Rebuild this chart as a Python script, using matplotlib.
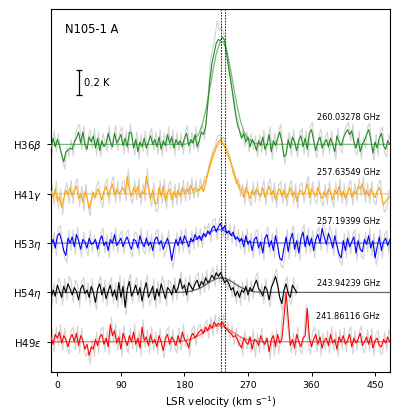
import numpy as np
import matplotlib
matplotlib.use("Agg")
import matplotlib.pyplot as plt

# channel grid (km/s): smoothed spectra start at -9, raw ones at -7.5, 3 km/s steps
V0_SMOOTH, V0_RAW, DV = -9.0, -7.5, 3.0

LINES = [r"H36$\beta$", r"H41$\gamma$", r"H53$\eta$", r"H54$\eta$", r"H49$\epsilon$"]
FREQS = ["260.03278 GHz", "257.63549 GHz", "257.19399 GHz", "243.94239 GHz", "241.86116 GHz"]
COLORS = ["forestgreen", "orange", "blue", "black", "red"]
OFFSETS = [1.6, 1.2, 0.8, 0.4, 0.0]
FREQ_DY = [0.218, 0.170, 0.172, 0.073, 0.208]

# smoothed spectra, units of 0.01 K
h36b = [-3, 5, -2, 4, -1, -8, -14, -6, -5, -3,
        -4, 2, 5, 10, 1, 10, 0, -4, 6, 2,
        7, -3, 5, -5, 3, -2, 1, 9, 2, -2,
        9, 1, 4, 8, -1, 5, -2, 10, 9, -3,
        4, -6, 2, -2, 5, -3, 2, 7, 0, 4,
        -2, 6, -4, 3, -1, 8, 1, 6, -3, 4,
        0, 3, -2, 5, 9, -1, 4, 1, 8, -2,
        3, 10, 8, 14, 32, 52, 66, 74, 82, 85,
        84, 87, 84, 72, 60, 50, 38, 26, 16, 11,
        5, 9, 2, 6, -2, 4, 1, -5, 3, -1,
        6, -4, 0, 8, -6, 3, -1, 5, 10, 2,
        -10, -8, 4, -3, 6, 2, -5, 3, 7, -2,
        5, -4, 9, 12, 3, -5, 2, 6, -3, 1,
        4, -2, 5, 0, -6, 7, 2, -1, 5, 9,
        12, 8, 11, 2, -3, 5, -6, 0, 3, 8,
        12, 4, -7, 2, -3, 5, 9, -1, -4, 3,
        0]
h41g = [2, -3, 4, -6, -2, -11, -4, 3, -1, 5,
        -2, 3, 6, -4, 0, -7, 2, -3, -12, -5,
        1, -3, 4, 0, -5, 2, 6, -2, 3, 8,
        -1, 4, 0, 2, 5, 0, 14, 3, -2, 5,
        1, 6, -3, 2, 0, 14, 4, -4, 3, -8,
        -8, 5, -2, 6, -6, 1, 4, -5, 2, -3,
        3, -2, 5, 0, 4, 1, 7, 2, 5, 3,
        3, 6, 2, 8, 16, 24, 30, 34, 38, 42,
        44, 41, 38, 33, 29, 25, 17, 12, 8, 4,
        2, -3, 5, 1, -4, 3, -1, 4, 0, -2,
        5, -3, 2, 6, -1, 3, -5, 1, 4, -2,
        3, -4, 0, 5, -2, 2, -6, 1, 3, -1,
        2, 8, -3, 4, 1, -2, 5, 0, -4, 2,
        -3, 4, 1, -5, 3, 0, 6, -2, 2, -4,
        1, 5, -3, 2, 0, 6, 4, 8, -1, 3,
        -2, 4, 0, -3, 2, 5, -1, -9, -6, -4,
        -2]
h53e = [-2, 3, -4, 6, 8, 2, -6, -10, 4, 0,
        5, -3, 7, 2, -5, 3, 1, -4, 4, -1,
        0, 3, -5, 2, 6, -2, 1, -6, 3, 0,
        7, -2, 1, 4, -3, 2, 5, -1, -5, 3,
        2, -4, 6, 0, -3, 4, -2, 1, -6, 3,
        5, -1, 2, -5, 0, 4, -3, -14, -4, 3,
        -2, 5, -1, 6, 2, -3, 4, 1, 7, 3,
        6, 2, 8, 5, 10, 7, 12, 14, 9, 13,
        16, 11, 14, 8, 10, 6, 9, 3, 5, 1,
        4, -3, 6, -1, 2, -6, 3, 5, -4, 1,
        -8, 4, 7, -3, 2, -6, 6, -2, -12, -14,
        -4, 5, -7, 3, 8, -5, 2, -8, 4, 9,
        -3, 6, -2, 4, -6, 3, 7, 0, 12, 5,
        -1, 8, 3, -4, 6, -2, -9, -12, 2, -6,
        4, -3, 1, 5, -8, 2, -5, -7, 3, -1,
        6, -4, 2, -12, -3, 5, -6, 1, 4, -2,
        3]
h54e = [-5, 2, -3, 6, 1, -4, 5, 0, 7, 3,
        -2, 4, 1, -6, 3, 6, -1, 2, -4, 5,
        0, -8, 3, 7, -2, 4, -5, 1, 6, -3,
        2, -6, 8, -4, 5, -12, 3, 9, -3, 1,
        6, -2, 4, -7, 2, 8, -4, 0, 5, -6,
        3, -3, 7, 1, -5, 4, 2, -2, 6, 0,
        4, 11, 3, 6, -2, 8, 5, 2, 7, 10,
        4, 9, 6, 12, 8, 10, 14, 11, 16, 13,
        16, 12, 8, 10, 7, 2, 4, -3, 1, -4,
        2, 0, 5, -2, 4, 1, 6, 10, 3, 1,
        -3, 5, 2, -6, 4, 8, 13, 6, -4, -9,
        2, 7, -1, -4, 6, 3, 0]
h49e = [4, -2, 6, 3, 8, -1, 5, 2, -4, 3,
        6, 0, 7, -3, 5, 1, -6, -2, -11, -4,
        -6, 2, -3, 4, 6, -2, 3, -4, 14, 5,
        9, -1, 4, -6, 7, 2, -3, 5, 0, 8,
        -2, 3, -5, 12, 1, 4, -3, 6, -1, 2,
        -4, 5, 0, -7, 3, 6, -2, 4, 1, -3,
        5, -1, 8, 2, 0, -5, 4, 7, 3, 6,
        8, 10, 7, 12, 9, 14, 11, 16, 13, 15,
        14, 16, 12, 10, 8, 7, 4, 5, 2, -2,
        -5, 3, 0, -2, 4, -6, 2, 1, -3, 5,
        0, -2, 3, -8, 2, 5, -4, 6, -1, 2,
        20, 40, 18, -3, 2, -5, 6, 0, -4, 3,
        5, 27, 3, -4, 2, 6, -2, 4, -5, 1,
        3, -3, 6, -1, 2, -6, 4, 0, 5, -2,
        1, 6, -4, 3, -1, 2, 7, -3, 0, 4,
        -2, 5, -5, 1, 3, -3, -4, 2, -1, 4,
        0]

# raw (unsmoothed) spectra, units of 0.01 K
raw_h36b = [-8, 12, -6, 9, -5, -14, -20, -2, -10, 4,
            -9, 8, 14, 16, -4, 15, -6, 5, 12, -3,
            13, -9, 10, -10, 9, 2, -6, 15, -4, 6,
            15, -5, 10, 14, -8, 11, -7, 16, 4, -9,
            10, -12, 8, -6, 11, -9, 8, 13, -5, 10,
            -8, 12, -10, 9, -6, 14, -4, 12, -9, 10,
            -5, 9, -8, 11, 15, -7, 10, -4, 14, -6,
            9, 16, 4, 24, 48, 70, 78, 88, 100, 92,
            96, 90, 82, 70, 60, 46, 36, 24, 18, 6,
            12, -2, 10, -6, 9, -4, 7, -10, 8, -7,
            12, -9, 6, 14, -12, 9, -6, 11, 16, -4,
            -16, -2, 10, -9, 12, -4, -10, 9, 13, -8,
            11, -10, 15, 18, -3, -11, 8, 12, -9, 6,
            10, -8, 11, -5, -12, 13, -4, -7, 11, 15,
            18, 3, 16, -5, -9, 11, -12, 6, -3, 14,
            17, -2, -13, 8, -9, 11, 14, -7, -10, 8,
            2]
raw_h41g = [8, -9, 10, -12, 4, -17, 2, 9, -8, 11,
            -8, 9, 12, -10, 6, -14, 8, -9, -18, 2,
            -5, 7, 10, -6, -11, 8, 12, -8, 9, 14,
            -7, 10, -6, 8, 11, -6, 20, -3, -8, 11,
            -5, 12, -9, 8, -6, 20, -2, -10, 9, -14,
            -14, 11, -8, 12, -12, 7, 10, -11, 8, -9,
            9, -8, 11, -6, 10, -5, 13, -4, 11, -3,
            12, 2, 14, 14, 22, 28, 36, 38, 46, 48,
            44, 46, 40, 36, 30, 22, 19, 8, 12, -2,
            8, -9, 11, -5, -10, 9, -7, 10, -6, 4,
            11, -9, 8, 12, -7, 9, -11, 7, 10, -8,
            9, -10, 6, 11, -8, 8, -12, 7, 9, -7,
            8, 14, -9, 10, -5, -8, 11, -6, -10, 8,
            -9, 10, -5, -11, 9, -6, 12, -8, 8, -10,
            7, 11, -9, 8, -6, 12, -2, 14, -7, 9,
            -8, 10, -6, -9, 8, 11, -7, -15, -12, 2,
            4]
raw_h53e = [-8, 9, -10, 12, 14, -4, -12, -16, 10, -6,
            11, -9, 13, -4, -11, 9, -5, -10, 10, -7,
            6, -3, -11, 8, 12, -8, 7, -12, 9, -6,
            13, -8, 7, 10, -9, 8, 11, -7, -11, 9,
            8, -10, 12, -6, -9, 10, -8, 7, -12, 9,
            11, -7, 8, -11, -6, 10, -9, -20, -10, 9,
            -8, 11, -7, 12, -4, -9, 10, -5, 13, -3,
            12, -4, 14, 11, 16, 1, 18, 20, 3, 19,
            22, 5, 20, 2, 16, 0, 15, -3, 11, -5,
            10, -9, 12, -7, 8, -12, 9, 11, -10, 7,
            -14, 10, 13, -9, 8, -12, 12, -8, -18, -20,
            -10, 11, -13, 9, 14, -11, 8, -14, 10, 15,
            -9, 12, -8, 10, -12, 9, 13, -6, 18, 11,
            -7, 14, 9, -10, 12, -8, -15, -18, 8, -12,
            10, -9, 7, 11, -14, 8, -11, -13, 9, -7,
            12, -10, 8, -18, -9, 11, -12, 7, 10, -8,
            5]
raw_h54e = [-11, 8, -9, 12, 7, -10, 11, -6, 13, 9,
            -8, 10, 7, -12, 9, 12, -7, 8, -10, 11,
            -6, -14, 9, 13, -8, 10, -11, 7, 12, -9,
            8, -12, 14, -10, 11, -18, 9, 15, -9, 7,
            12, -8, 10, -13, 8, 14, -10, -6, 11, -12,
            9, -9, 13, 7, -11, 10, 8, -8, 12, -6,
            10, 17, -3, 12, -8, 14, -1, 8, 13, 16,
            -2, 15, 0, 18, 2, 16, 20, 5, 22, 7,
            22, 6, 14, 2, 13, -4, 10, -9, 7, -10,
            8, -6, 11, -8, 10, -5, 12, 16, -3, 7,
            -9, 11, -4, -12, 10, 14, 19, 0, -10, -15,
            8, 13, -7, -10, 12, -3, 6]
raw_h49e = [10, -8, 12, -3, 14, -7, 11, -4, -10, 9,
            12, -6, 13, -9, 11, -5, -12, -8, -18, 2,
            -12, 8, -9, 10, 12, -8, 9, -10, 20, -1,
            15, -7, 10, -12, 13, -4, -9, 11, -6, 14,
            -8, 9, -11, 18, -5, 10, -9, 12, -7, 8,
            -10, 11, -6, -13, 9, 12, -8, 10, -5, -9,
            11, -7, 14, -4, 6, -11, 10, 13, -3, 12,
            14, 4, 13, 18, 3, 20, 5, 22, 7, 21,
            8, 22, 6, 16, 2, 13, -2, 11, -4, 4,
            -11, 9, -6, 4, -8, 10, -12, 7, -9, 11,
            -6, 4, -3, -14, 8, -11, 10, -10, 5, 28,
            44, 14, 4, -9, 8, -11, 12, -6, -10, 9,
            30, -2, -10, 8, 12, -8, 10, -11, 7, -6,
            9, -9, 12, -7, 8, -12, 10, -6, 11, -8,
            7, 12, -10, 9, -7, 8, 13, -9, -6, 10,
            -8, 11, -11, 7, 9, -9, -10, 8, -7, 10,
            3]

# gaussian fits, sampled (0.01 K)
fit_v = [-10, 170, 180, 190, 200, 205, 210, 215, 220, 225, 230,
         235, 240, 245, 250, 255, 260, 265, 270, 280, 290, 475]
fit_h36b = [0, 0, 0, 1.6, 8.2, 15.7, 27.1, 42.1, 58.5, 73.3, 82.4,
            83.3, 75.6, 61.8, 45.3, 29.9, 17.7, 9.4, 4.5, 0.8, 0.1, 0]
fit_h41g = [0, 0, 0, 0.4, 2.6, 5.9, 11.3, 19.2, 28.5, 36.8, 41.5,
            41.0, 35.3, 26.6, 17.5, 10.1, 5.0, 2.2, 0.9, 0.1, 0, 0]
fit_h53e = [0, 0.1, 0.5, 1.5, 3.8, 5.3, 7.1, 8.7, 10.1, 10.9, 10.9,
            10.3, 9.0, 7.4, 5.7, 4.0, 2.7, 1.7, 1.0, 0.3, 0.1, 0]
fit_h54e = [0, 0.1, 0.3, 1.1, 3.0, 4.4, 6.2, 8.1, 9.8, 11.2, 11.9,
            11.9, 11.0, 9.5, 7.7, 5.8, 4.1, 2.7, 1.7, 0.5, 0.1, 0]
fit_h49e = [0, 0.2, 0.8, 2.3, 5.1, 6.9, 8.8, 10.6, 12.0, 12.9, 12.9,
            12.3, 10.9, 9.2, 7.3, 5.4, 3.8, 2.5, 1.6, 0.5, 0.1, 0]

VLSR = [232, 238]  # dashed reference velocities

smooth = [h36b, h41g, h53e, h54e, h49e]
raw = [raw_h36b, raw_h41g, raw_h53e, raw_h54e, raw_h49e]
fits = [fit_h36b, fit_h41g, fit_h53e, fit_h54e, fit_h49e]

fig = plt.figure(figsize=(3.99, 4.18), dpi=100)
ax = fig.add_axes([0.127, 0.109, 0.851, 0.870])

for i in range(len(LINES)):
    off = OFFSETS[i]
    r = np.array(raw[i]) / 100.0
    s = np.array(smooth[i]) / 100.0
    vr = V0_RAW + DV * np.arange(len(r))
    vs = V0_SMOOTH + DV * np.arange(len(s))
    ax.plot(vr, r + off, color="lightgray", lw=0.8, zorder=1)
    ax.plot(fit_v, np.array(fits[i]) / 100.0 + off, color=COLORS[i], lw=0.9, alpha=0.6, zorder=2)
    ax.plot(vs, s + off, color=COLORS[i], lw=0.8, zorder=3)
    ax.text(457, off + FREQ_DY[i], FREQS[i], ha="right", va="center", fontsize=5.9)

for v in VLSR:
    ax.axvline(v, color="black", ls="--", lw=0.6, dashes=(2, 1.5), zorder=4)

# 0.2 K scale bar
ax.errorbar([30], [2.1], yerr=[0.1], color="black", capsize=2.5, lw=0.9, capthick=0.9)
ax.text(38, 2.1, "0.2 K", va="center", ha="left", fontsize=7.2)
ax.text(11, 2.534, "N105-1 A", va="center", ha="left", fontsize=8.3)

ax.set_xlim(-9.5, 471.5)
ax.set_ylim(-0.248, 2.699)
ax.set_xticks([0, 90, 180, 270, 360, 450])
ax.set_yticks(OFFSETS)
ax.set_yticklabels(LINES)
ax.tick_params(axis="x", labelsize=6.7, length=3, width=0.7)
ax.tick_params(axis="y", labelsize=7.3, length=3, width=0.7)
ax.set_xlabel(r"LSR velocity (km s$^{-1}$)", fontsize=7.5, labelpad=3)
for sp in ax.spines.values():
    sp.set_linewidth(0.8)

fig.savefig("out.png", dpi=100)
